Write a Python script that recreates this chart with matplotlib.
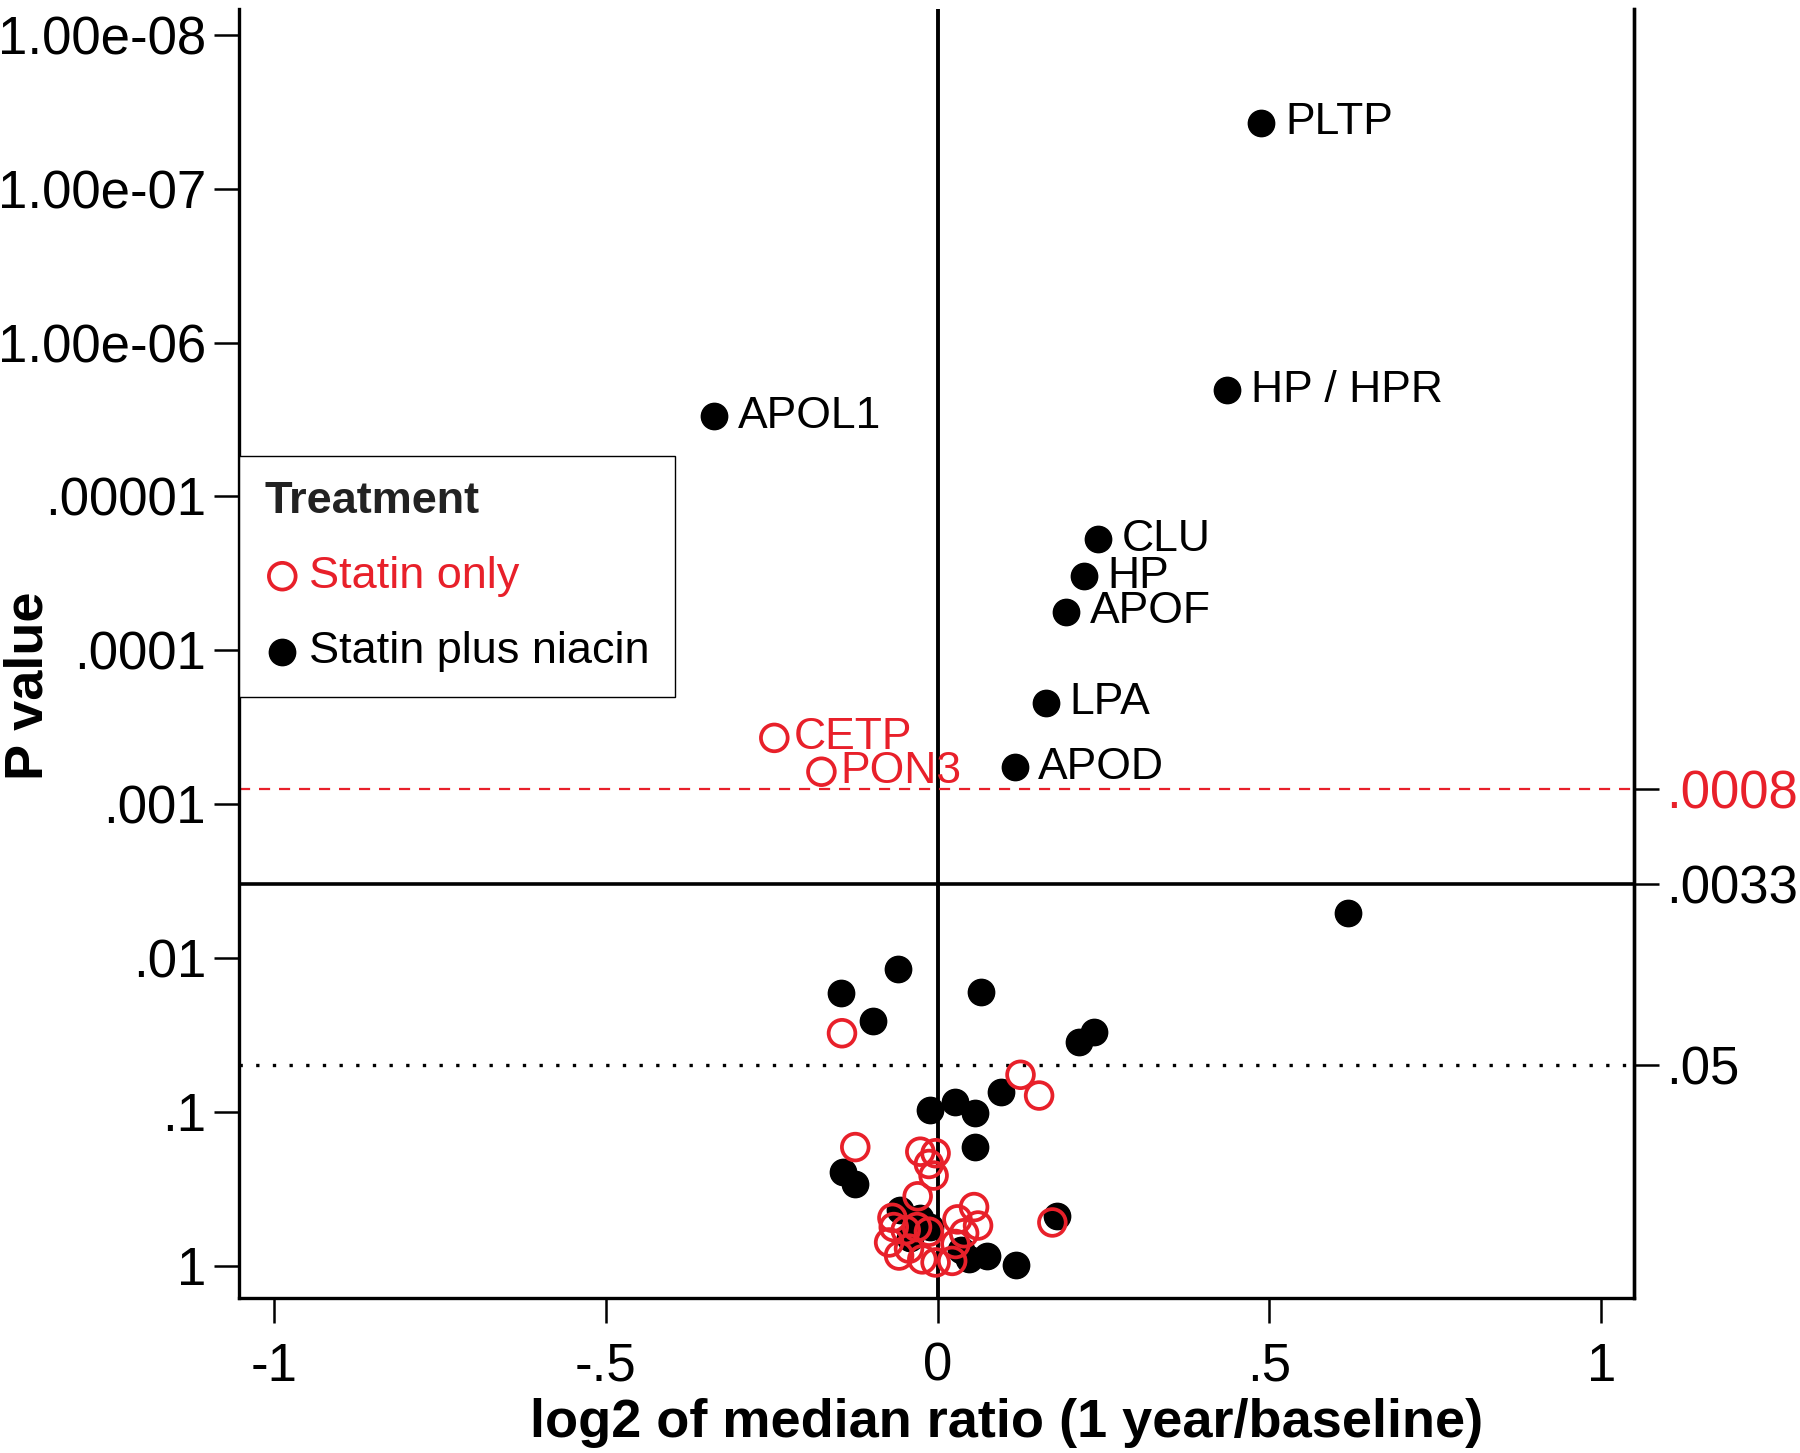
import numpy as np
import matplotlib
matplotlib.use("Agg")
import matplotlib.pyplot as plt

plt.rcParams['font.family'] = ['Liberation Sans', 'DejaVu Sans']

# ---------------------------------------------
# data: x = log2 of median ratio, y = -log10(P)
# Statin plus niacin (filled black)
niacin_x = [0.488, 0.436, -0.337, 0.242, 0.221, 0.194, 0.163, 0.116,
            0.619, -0.060, -0.145, 0.066, -0.097, 0.213, 0.236,
            -0.012, 0.027, 0.056, 0.096, 0.057, -0.142, -0.125, 0.180,
            0.118, 0.075, 0.047, -0.056, -0.026, -0.011, -0.041, 0.035]
niacin_y = [7.43, 5.69, 5.52, 4.72, 4.48, 4.25, 3.66, 3.24,
            2.29, 1.93, 1.77, 1.78, 1.59, 1.45, 1.52,
            1.01, 1.06, 0.99, 1.13, 0.77, 0.61, 0.53, 0.32,
            0.005, 0.065, 0.04, 0.36, 0.31, 0.25, 0.18, 0.10]
niacin_labels = ["PLTP", "HP / HPR", "APOL1", "CLU", "HP", "APOF", "LPA", "APOD"]

# Statin only (open red)
statin_x = [-0.246, -0.175, -0.144, 0.125, 0.153, -0.124, -0.026, -0.003,
            -0.013, -0.006, -0.030, 0.055, 0.061, 0.030, 0.040, 0.027,
            0.022, -0.003, -0.023, -0.058, -0.073, -0.068, -0.066, -0.048,
            -0.031, -0.013, -0.043, 0.173]
statin_y = [3.43, 3.21, 1.51, 1.24, 1.105, 0.77, 0.74, 0.73,
            0.66, 0.585, 0.45, 0.38, 0.26, 0.30, 0.21, 0.14,
            0.03, 0.02, 0.04, 0.065, 0.15, 0.31, 0.25, 0.23,
            0.25, 0.22, 0.11, 0.28]
statin_labels = ["CETP", "PON3"]

left_ticks = [1e-8, 1e-7, 1e-6, 1e-5, 1e-4, 1e-3, 1e-2, 1e-1, 1]
left_labels = ["1.00e-08", "1.00e-07", "1.00e-06", ".00001", ".0001",
               ".001", ".01", ".1", "1"]
right_ticks = [0.0008, 0.0033, 0.05]
right_labels = [".0008", ".0033", ".05"]
x_ticks = [-1, -0.5, 0, 0.5, 1]
x_labels = ["-1", "-.5", "0", ".5", "1"]

RED = '#e8202a'

# ---------------------------------------------
fig = plt.figure(figsize=(18, 14.53), dpi=100)
ax = fig.add_axes([0.133, 0.107, 0.775, 0.887])

ax.axvline(0, color='black', lw=2.8, zorder=1)
ax.axhline(-np.log10(0.0008), color=RED, lw=1.6, ls=(0, (5, 4)), zorder=1)
ax.axhline(-np.log10(0.0033), color='black', lw=2.6, zorder=1)
ax.axhline(-np.log10(0.05), color='black', lw=2.4, ls=(0, (1, 4)), zorder=1)

ax.scatter(niacin_x, niacin_y, s=360, color='black', zorder=3,
           label='Statin plus niacin')
ax.scatter(statin_x, statin_y, s=370, facecolors='none', edgecolors=RED,
           linewidths=2.7, zorder=4, label='Statin only')

for i, lab in enumerate(niacin_labels):
    ax.annotate(lab, (niacin_x[i], niacin_y[i]), xytext=(17, 0),
                textcoords='offset points', ha='left', va='center',
                fontsize=32, color='black')
for i, lab in enumerate(statin_labels):
    ax.annotate(lab, (statin_x[i], statin_y[i]), xytext=(14, 0),
                textcoords='offset points', ha='left', va='center',
                fontsize=32, color=RED)

ax.set_xlim(-1.052, 1.050)
ax.set_ylim(-0.208, 8.17)

ax.set_xticks(x_ticks)
ax.set_xticklabels(x_labels)
ax.set_yticks([-np.log10(v) for v in left_ticks])
ax.set_yticklabels(left_labels)
ax.tick_params(axis='y', length=18, width=1.8, labelsize=38, pad=6)
ax.tick_params(axis='x', length=18, width=1.8, labelsize=38, pad=14)

for s in ['left', 'right', 'bottom']:
    ax.spines[s].set_linewidth(2.4)
ax.spines['top'].set_visible(False)

ax2 = ax.twinx()
ax2.set_ylim(ax.get_ylim())
ax2.set_yticks([-np.log10(v) for v in right_ticks])
ax2.set_yticklabels(right_labels)
ax2.tick_params(axis='y', length=18, width=1.8, labelsize=38, pad=5)
ax2.get_yticklabels()[0].set_color(RED)
ax2.spines['top'].set_visible(False)
ax2.spines['right'].set_linewidth(2.4)

ax.set_xlabel("log2 of median ratio (1 year/baseline)", fontsize=39,
              fontweight='bold')
ax.xaxis.set_label_coords(0.55, -0.078)
fig.text(0.016, 0.528, "P value", rotation=90, fontsize=39, fontweight='bold',
         ha='center', va='center')

handles, labels = ax.get_legend_handles_labels()
leg = ax.legend(handles[::-1], labels[::-1], title='Treatment',
                loc='upper left', bbox_to_anchor=(0.0, 0.653),
                borderaxespad=0, fontsize=32.5, frameon=True, fancybox=False,
                framealpha=1, edgecolor='black', alignment='left',
                title_fontproperties={'weight': 'bold', 'size': 32.5},
                handletextpad=0.2, borderpad=0.55, labelspacing=0.76,
                handlelength=0.8, markerscale=1.0)
leg.get_frame().set_linewidth(1.0)
leg.get_texts()[0].set_color(RED)
leg.get_title().set_color('#222222')

fig.savefig("out.png", dpi=100)
